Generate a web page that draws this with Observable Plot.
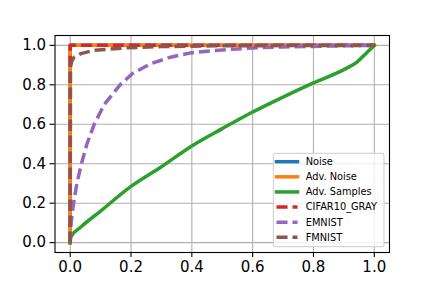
<!DOCTYPE html>
<html>
<head>
<meta charset="utf-8">
<script src="https://cdn.jsdelivr.net/npm/d3@7"></script>
<script src="https://cdn.jsdelivr.net/npm/@observablehq/plot@0.6"></script>
<style>
  html, body { margin: 0; padding: 0; background: white; }
  #chart { width: 432px; height: 288px; }
</style>
</head>
<body>
<div id="chart"></div>
<script>
// ---- data ----
const seriesNames = ["Noise", "Adv. Noise", "Adv. Samples", "CIFAR10_GRAY", "EMNIST", "FMNIST"];
const seriesColors = ["#1f77b4", "#ff7f0e", "#2ca02c", "#d62728", "#9467bd", "#8c564b"];
const seriesDashed = [false, false, false, true, true, true];

const noiseX = [0, 0, 1];
const noiseY = [0, 1, 1];
const advNoiseX = [0, 0, 1];
const advNoiseY = [0, 1, 1];
const advSamplesX = [0, 0.002, 0.035, 0.1, 0.2, 0.3, 0.4, 0.5, 0.6, 0.7, 0.8, 0.9, 0.943, 0.975, 1];
const advSamplesY = [0, 0.028, 0.079, 0.16, 0.285, 0.385, 0.49, 0.578, 0.662, 0.738, 0.81, 0.877, 0.915, 0.963, 1];
const cifarX = [0, 0, 1];
const cifarY = [0, 1, 1];
const emnistX = [0, 0.003, 0.011, 0.022, 0.037, 0.055, 0.079, 0.112, 0.164, 0.205, 0.265, 0.33, 0.4, 0.5, 0.6, 0.7, 0.83, 0.95, 1];
const emnistY = [0, 0.1, 0.2, 0.3, 0.4, 0.5, 0.6, 0.7, 0.8, 0.857, 0.907, 0.94, 0.963, 0.977, 0.987, 0.992, 0.996, 0.999, 1];
const fmnistX = [0, 0.001, 0.005, 0.013, 0.035, 0.079, 0.188, 0.3, 0.5, 1];
const fmnistY = [0, 0.89, 0.92, 0.94, 0.958, 0.975, 0.988, 0.994, 0.998, 1];

const xTicks = [0, 0.2, 0.4, 0.6, 0.8, 1.0];
const yTicks = [0, 0.2, 0.4, 0.6, 0.8, 1.0];

// ---- build tables ----
const xs = [noiseX, advNoiseX, advSamplesX, cifarX, emnistX, fmnistX];
const ys = [noiseY, advNoiseY, advSamplesY, cifarY, emnistY, fmnistY];
const tables = xs.map((xa, i) => xa.map((x, j) => ({x, y: ys[i][j], s: seriesNames[i]})));

const lw = 3.5;
const lineMarks = tables.map((t, i) => Plot.line(t, {
  x: "x", y: "y",
  stroke: seriesColors[i],
  strokeWidth: lw,
  strokeDasharray: seriesDashed[i] ? "11,5" : null,
  strokeLinecap: seriesDashed[i] ? "butt" : "square",
  strokeLinejoin: "round",
  curve: seriesDashed[i] || i < 2 ? "linear" : "monotone-x"
}));

const W = 432, H = 288;
const mL = 54.5, mR = 43, mT = 35, mB = 36;

const chart = Plot.plot({
  width: W, height: H,
  marginLeft: mL, marginRight: mR, marginTop: mT, marginBottom: mB,
  style: {fontFamily: "DejaVu Sans", fontSize: "15px", color: "black", background: "white"},
  x: {domain: [-0.05, 1.05], label: null},
  y: {domain: [-0.05, 1.05], label: null},
  marks: [
    Plot.gridX(xTicks, {stroke: "#b0b0b0", strokeOpacity: 1, strokeWidth: 1.1}),
    Plot.gridY(yTicks, {stroke: "#b0b0b0", strokeOpacity: 1, strokeWidth: 1.1}),
    ...lineMarks,
    Plot.frame({stroke: "black", strokeWidth: 1.1}),
    Plot.axisX(xTicks, {tickFormat: d3.format(".1f"), tickSize: 5, tickPadding: 4, stroke: "black", strokeWidth: 1.1, fontSize: 15, label: null}),
    Plot.axisY(yTicks, {tickFormat: d3.format(".1f"), tickSize: 5, tickPadding: 4, stroke: "black", strokeWidth: 1.1, fontSize: 15, label: null})
  ]
});

// ---- legend (inside the axes, lower right) ----
const svg = d3.select(chart);
const lg = svg.append("g").attr("font-family", "DejaVu Sans").attr("font-size", "9.8px").attr("text-anchor", "start");
const bx = 273.3, by = 153.3, bw = 110.7, bh = 93.4;
lg.append("rect").attr("x", bx).attr("y", by).attr("width", bw).attr("height", bh)
  .attr("rx", 2).attr("fill", "white").attr("fill-opacity", 0.8)
  .attr("stroke", "#cccccc").attr("stroke-width", 1);
seriesNames.forEach((name, i) => {
  const yy = 161.7 + i * 15.12;
  lg.append("line").attr("x1", 276.5).attr("x2", 297.5).attr("y1", yy).attr("y2", yy)
    .attr("stroke", seriesColors[i]).attr("stroke-width", lw)
    .attr("stroke-dasharray", seriesDashed[i] ? "11,5" : null)
    .attr("stroke-linecap", seriesDashed[i] ? "butt" : "square");
  lg.append("text").attr("x", 305.7).attr("y", yy).attr("dy", "0.35em")
    .attr("text-anchor", "start").attr("fill", "black").text(name);
});

document.getElementById("chart").appendChild(chart);
</script>
</body>
</html>
